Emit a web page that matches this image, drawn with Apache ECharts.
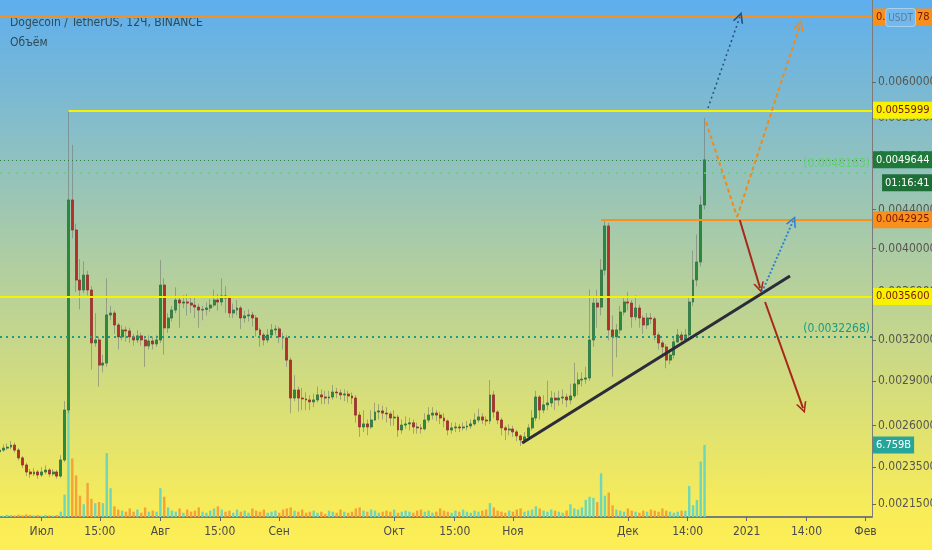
<!DOCTYPE html>
<html><head><meta charset="utf-8">
<script src="https://cdn.jsdelivr.net/npm/echarts@6.0.0/dist/echarts.min.js"></script>
<style>
html,body{margin:0;padding:0;}
#c{width:932px;height:550px;background:linear-gradient(to bottom,#5eaeee 0%,#aecda3 47%,#f8ec58 93%,#fdee55 100%);}
</style>
</head><body><div id="c"></div>
<script>
// ---- data (12Ч chart, drawn here as daily candles; x = day offset from 2020-06-20) ----
const firstOpen = 2440e-6;
const closes = [
2450,2462,2468,2480,2450,2404,2363,2323,2312,2323,
2306,2323,2334,2312,2323,2300,2392,2701,4503,4186,
3706,3617,3751,3617,3180,3203,3013,3028,3404,3420,
3322,3227,3282,3274,3227,3203,3235,3203,3157,3195,
3172,3203,3661,3298,3379,3445,3530,3504,3513,3504,
3487,3470,3445,3450,3462,3487,3530,3513,3565,3547,
3420,3445,3462,3379,3396,3404,3379,3282,3242,3203,
3242,3282,3290,3227,3219,3050,2781,2836,2781,2775,
2768,2755,2768,2802,2788,2781,2788,2822,2816,2802,
2808,2795,2781,2668,2592,2611,2592,2636,2688,2695,
2681,2675,2649,2655,2573,2604,2611,2618,2592,2586,
2580,2636,2668,2681,2668,2649,2630,2573,2586,2592,
2586,2592,2598,2611,2636,2656,2636,2630,2802,2688,
2636,2586,2573,2579,2561,2536,2511,2530,2586,2649,
2788,2701,2735,2748,2781,2768,2781,2788,2768,2795,
2878,2906,2912,2920,3203,3504,3470,3797,4227,3282,
3227,3282,3428,3513,3504,3388,3462,3379,3322,3379,
3372,3242,3180,3149,3050,3088,3188,3242,3203,3242,
3513,3706,3872,4448,4964.4].map(v => v * 1e-6);
const highs = [
2475,2485,2490,2505,2495,2462,2415,2375,2340,2345,
2335,2350,2360,2345,2340,2335,2420,2760,5599.9,5150,
4250,3900,3880,3790,3650,3420,3230,3090,3720,3480,
3440,3340,3320,3310,3300,3250,3280,3260,3220,3240,
3230,3240,3890,3720,3420,3480,3640,3560,3570,3580,
3560,3560,3500,3480,3510,3540,3620,3580,3720,3650,
3560,3500,3530,3480,3440,3450,3430,3400,3300,3260,
3290,3330,3320,3310,3260,3240,3070,2940,2860,2850,
2820,2800,2810,2860,2840,2830,2830,2870,2850,2840,
2840,2830,2820,2800,2690,2700,2640,2700,2750,2740,
2730,2720,2690,2700,2670,2640,2660,2650,2640,2620,
2610,2680,2720,2720,2700,2690,2680,2640,2620,2620,
2610,2620,2630,2640,2680,2710,2680,2660,2906,2830,
2700,2650,2600,2610,2600,2575,2545,2560,2610,2700,
2830,2800,2800,2900,2830,2820,2830,2840,2810,2880,
3030,2960,2960,3000,3620,3560,3620,3900,4292.5,4260,
3400,3330,3480,3560,3600,3530,3570,3490,3400,3420,
3420,3390,3260,3200,3170,3130,3230,3290,3270,3290,
3560,3980,4140,4550,5497].map(v => v * 1e-6);
const lows = [
2425,2440,2450,2455,2435,2390,2345,2300,2290,2300,
2285,2295,2310,2295,2300,2285,2290,2380,2680,4100,
3600,3450,3590,3570,2980,3150,2860,2960,3000,3360,
3250,3130,3200,3190,3180,3160,3180,3160,3000,3130,
3130,3150,3180,3090,3260,3350,3420,3300,3460,3400,
3420,3380,3300,3360,3400,3430,3470,3440,3480,3420,
3380,3380,3400,3290,3340,3350,3310,3230,3150,3160,
3180,3220,3240,3180,3130,3000,2680,2760,2690,2700,
2700,2700,2720,2750,2740,2740,2740,2770,2780,2770,
2760,2750,2740,2620,2530,2560,2540,2580,2630,2640,
2640,2620,2600,2600,2530,2550,2580,2570,2550,2550,
2550,2570,2620,2640,2630,2610,2590,2540,2550,2560,
2560,2570,2570,2580,2600,2620,2610,2600,2610,2650,
2610,2540,2510,2540,2530,2505,2475,2490,2510,2570,
2630,2640,2680,2700,2720,2700,2730,2740,2720,2740,
2780,2800,2860,2880,2900,3150,3300,3400,3750,3200,
2930,3070,3250,3400,3440,3300,3360,3300,3250,3290,
3330,3200,3130,3070,2990,3020,3060,3180,3170,3190,
3220,3480,3650,3830,4400].map(v => v * 1e-6);
const volumesB = [
0.15,0.12,0.2,0.18,0.14,0.22,0.16,0.25,0.2,0.15,0.18,0.12,0.2,0.15,0.13,0.18,
0.5,2.1,12.1,5.5,3.9,2.0,1.2,3.2,1.7,1.3,1.4,1.3,6.0,2.7,1.0,0.7,
0.6,0.5,0.8,0.5,0.7,0.4,0.9,0.5,0.6,0.5,
2.7,1.9,0.9,
0.6,0.5,0.8,0.4,0.7,0.5,0.6,0.9,0.5,0.4,0.6,0.8,1.0,0.7,0.5,0.6,0.4,0.7,0.5,0.6,0.4,0.8,0.6,0.5,0.7,0.4,0.5,0.6,0.4,0.7,0.8,
0.9,
0.6,0.5,0.7,0.4,0.5,0.6,0.4,0.5,0.3,0.6,0.5,0.4,0.7,0.5,0.4,0.5,0.8,0.9,0.6,0.5,0.7,0.6,0.4,0.5,0.6,0.5,0.7,0.4,0.5,0.6,0.5,0.4,0.6,0.7,0.5,0.6,0.4,0.5,0.8,0.6,0.5,0.4,0.6,0.5,0.7,0.5,0.4,0.6,0.5,0.6,0.7,
1.3,
0.9,0.6,0.5,0.4,0.6,0.5,0.7,0.8,0.5,0.6,0.7,1.0,0.8,0.6,0.5,0.7,0.6,0.5,0.4,0.6,
1.2,0.8,0.7,0.9,1.6,1.9,1.8,1.4,4.1,2.0,2.3,1.1,
0.7,0.6,0.5,0.8,0.6,0.5,0.4,0.6,0.5,0.7,0.6,0.5,0.8,0.6,0.5,0.4,0.5,0.6,0.6,
2.9,1.1,1.6,5.2,6.759];

const xTickDays = [11, 26.2, 42, 57.5, 73, 103, 118.8, 134, 164, 179.6, 195, 210.6, 226];
const xTickLabels = ['Июл','15:00','Авг','15:00','Сен','Окт','15:00','Ноя','Дек','14:00','2021','14:00','Фев'];
const yTicks = [0.00215,0.00235,0.0026,0.0029,0.0032,0.0036,0.004,0.0044,0.005,0.0055,0.006];

const topLevel = 0.0070278, highLevel = 0.0055999, resLevel = 0.0042925, supLevel = 0.0035600;
const lastPrice = 0.0049644, avgHigh = 0.0048163, avgLow = 0.0032268, lastVolumeB = 6.759;
const countdown = '01:16:41';
const highStartDay = 18, resStartDay = 157;
const trendLine = [[136.4, 0.002493], [206.3, 0.003742]];
const orangeZig = [[184.4, 0.005443], [192.5, 0.004320], [208.9, 0.006893]];
const redArrow1 = [[193.2, 0.004289], [198.5, 0.003635]];
const blueArrow1 = [[199.0, 0.003600], [207.1, 0.004279]];
const redArrow2 = [[199.8, 0.003513], [209.7, 0.002714]];
const blueArrowTop = [[184.9, 0.005632], [193.2, 0.007028]];

const X_MIN = 0.14, X_MAX = 227.7;
const FONT = "'Liberation Sans Narrow','DejaVu Sans Condensed','Liberation Sans',sans-serif";
const BOXFS = 11;

// ---- build ----
const opens = closes.map((c, i) => i === 0 ? firstOpen : closes[i - 1]);
const wickData = closes.map((c, i) => [i, opens[i], c, lows[i], highs[i]]);
const bodyData = closes.map((c, i) => [i, opens[i], c, Math.min(opens[i], c), Math.max(opens[i], c)]);
const volData = volumesB.map((v, i) => ({
  value: [i, v],
  itemStyle: { color: closes[i] >= opens[i] ? '#6fd6b8' : '#f4a23a' }
}));

const chevron = 'path://M5,0 L10,10 L8.4,10 L5,3.2 L1.6,10 L0,10 Z';
function seg(a, b, color, type, width, arrow) {
  const ls = { color, type, width };
  return [
    { coord: a, symbol: 'none', lineStyle: ls, label: { show: false } },
    { coord: b, symbol: arrow ? chevron : 'none', symbolSize: [11, 11], lineStyle: ls, itemStyle: { color }, label: { show: false } }
  ];
}
function box(bg, fg) {
  return { show: true, position: 'end', distance: 1, backgroundColor: bg, color: fg,
           padding: [3, 3, 3, 3], fontSize: BOXFS, fontFamily: FONT };
}

const markData = [
  [{ coord: [X_MIN, topLevel], symbol: 'none', lineStyle: { color: '#f7901c', width: 2, type: 'solid' },
     label: Object.assign(box('#f7901c', '#7a1408'), { formatter: topLevel.toFixed(7) }) },
   { coord: [X_MAX, topLevel], symbol: 'none' }],
  [{ coord: [highStartDay, highLevel], symbol: 'none', lineStyle: { color: '#f6f200', width: 2, type: 'solid' },
     label: Object.assign(box('#f6f200', '#7a1408'), { formatter: highLevel.toFixed(7) }) },
   { coord: [X_MAX, highLevel], symbol: 'none' }],
  [{ coord: [resStartDay, resLevel], symbol: 'none', lineStyle: { color: '#f7901c', width: 2, type: 'solid' },
     label: Object.assign(box('#f7901c', '#7a1408'), { formatter: resLevel.toFixed(7) }) },
   { coord: [X_MAX, resLevel], symbol: 'none' }],
  [{ coord: [X_MIN, supLevel], symbol: 'none', lineStyle: { color: '#f6f200', width: 2, type: 'solid' },
     label: Object.assign(box('#f6f200', '#7a1408'), { formatter: supLevel.toFixed(7) }) },
   { coord: [X_MAX, supLevel], symbol: 'none' }],
  [{ coord: [X_MIN, avgHigh], symbol: 'none', lineStyle: { color: '#5fd46c', width: 1.5, type: [2, 6] },
     label: { show: true, position: 'insideEndTop', distance: 2, color: '#5fd46c', fontSize: 12, fontFamily: FONT, formatter: '(' + avgHigh.toFixed(7) + ')' } },
   { coord: [X_MAX, avgHigh], symbol: 'none' }],
  [{ coord: [X_MIN, avgLow], symbol: 'none', lineStyle: { color: '#1c9c84', width: 2, type: [2, 4] },
     label: { show: true, position: 'insideEndTop', distance: 2, color: '#1c9c84', fontSize: 12, fontFamily: FONT, formatter: '(' + avgLow.toFixed(7) + ')' } },
   { coord: [X_MAX, avgLow], symbol: 'none' }],
  [{ coord: [X_MIN, lastPrice], symbol: 'none', lineStyle: { color: '#2f7d3d', width: 1, type: [1, 3] },
     label: { show: true, position: 'end', distance: 1, offset: [0, 11.5], fontFamily: FONT, fontSize: BOXFS,
       formatter: '{a|' + lastPrice.toFixed(7) + '}\n{b|' + countdown + '}',
       rich: {
         a: { backgroundColor: '#1f7a3a', color: '#ffffff', padding: [3, 3, 3, 3], lineHeight: 23, fontSize: BOXFS, fontFamily: FONT },
         b: { backgroundColor: '#1e6e37', color: '#ffffff', padding: [3, 3, 3, 3], lineHeight: 23, fontSize: BOXFS, fontFamily: FONT, align: 'right' }
       } } },
   { coord: [X_MAX, lastPrice], symbol: 'none' }],
  seg(trendLine[0], trendLine[1], '#2b2b3a', 'solid', 3, false),
  seg(orangeZig[0], orangeZig[1], '#f08a1c', [4, 3], 2, false),
  seg(orangeZig[1], orangeZig[2], '#f08a1c', [4, 3], 2, true),
  seg(redArrow1[0], redArrow1[1], '#a8261a', 'solid', 2, true),
  seg(blueArrow1[0], blueArrow1[1], '#2e82d8', [2, 2], 2, true),
  seg(redArrow2[0], redArrow2[1], '#a8261a', 'solid', 2, true),
  seg(blueArrowTop[0], blueArrowTop[1], '#24507a', [2, 3], 1.5, true)
];

const chart = echarts.init(document.getElementById('c'), null, { renderer: 'canvas' });
chart.setOption({
  animation: false,
  backgroundColor: 'transparent',
  title: [
    { text: 'Dogecoin / TetherUS, 12Ч, BINANCE', left: 5, top: 12,
      textStyle: { fontSize: 12, fontWeight: 'normal', color: '#2f4b55', fontFamily: FONT } },
    { text: 'Объём', left: 5, top: 32,
      textStyle: { fontSize: 12, fontWeight: 'normal', color: '#2f4b55', fontFamily: FONT } }
  ],
  grid: { left: 0, right: 60, top: 0, bottom: 33, containLabel: false, outerBoundsMode: 'none' },
  xAxis: {
    type: 'value', min: X_MIN, max: X_MAX,
    splitLine: { show: false },
    axisLine: { show: true, onZero: false, lineStyle: { color: '#7b7b7b', width: 2 } },
    axisTick: { show: true, customValues: xTickDays, length: 4, lineStyle: { color: '#666' } },
    axisLabel: { customValues: xTickDays, color: '#4a4a4a', fontSize: 12, fontFamily: FONT, margin: 9,
      formatter: v => { const i = xTickDays.findIndex(t => Math.abs(t - v) < 0.01); return i >= 0 ? xTickLabels[i] : ''; } }
  },
  yAxis: [
    { type: 'log', logBase: 10, position: 'right', min: 0.002082, max: 0.007325,
      splitLine: { show: false },
      axisLine: { show: true, lineStyle: { color: '#7b7b7b', width: 1 } },
      axisTick: { show: true, customValues: yTicks, length: 4, lineStyle: { color: '#666' } },
      axisLabel: { customValues: yTicks, color: '#55574f', fontSize: 12, fontFamily: FONT, margin: 6,
        formatter: v => Number(v).toFixed(7) } },
    { type: 'value', min: 0, max: 48.5, show: false }
  ],
  series: [
    { type: 'bar', name: 'Объём', xAxisIndex: 0, yAxisIndex: 1, data: volData, barWidth: 2.4,
      markLine: { silent: true, symbol: ['none', 'none'], z: 10,
        data: [[
          { coord: [X_MIN, lastVolumeB], symbol: 'none', lineStyle: { color: 'rgba(0,0,0,0)', width: 0 },
            label: Object.assign(box('#26a69a', '#ffffff'), { formatter: lastVolumeB.toFixed(3) + 'B' }) },
          { coord: [X_MAX, lastVolumeB], symbol: 'none' }
        ]] } },
    { type: 'candlestick', name: 'wicks', data: wickData, encode: { x: 0, y: [1, 2, 3, 4] }, barWidth: 2.4,
      itemStyle: { color: 'rgba(115,115,115,0.55)', color0: 'rgba(115,115,115,0.55)',
                   borderColor: 'rgba(115,115,115,0.55)', borderColor0: 'rgba(115,115,115,0.55)', borderWidth: 1 } },
    { type: 'candlestick', name: 'DOGEUSDT', data: bodyData, encode: { x: 0, y: [1, 2, 3, 4] }, barWidth: 2.4,
      itemStyle: { color: '#2c8a3f', color0: '#b3302a', borderColor: '#24743a', borderColor0: '#9c2822', borderWidth: 0.6 },
      markLine: { silent: true, symbol: ['none', 'none'], z: 10, data: markData } }
  ],
  graphic: [
    { type: 'text', z: 100, right: 16, top: 8,
      style: { text: 'USDT', fill: '#5a7d9e', fontSize: 10, fontFamily: FONT,
               backgroundColor: '#72b8ec', borderColor: '#a6d2f2', borderWidth: 1, borderRadius: 3,
               padding: [4, 2, 3, 2] } }
  ]
});
</script></body></html>
